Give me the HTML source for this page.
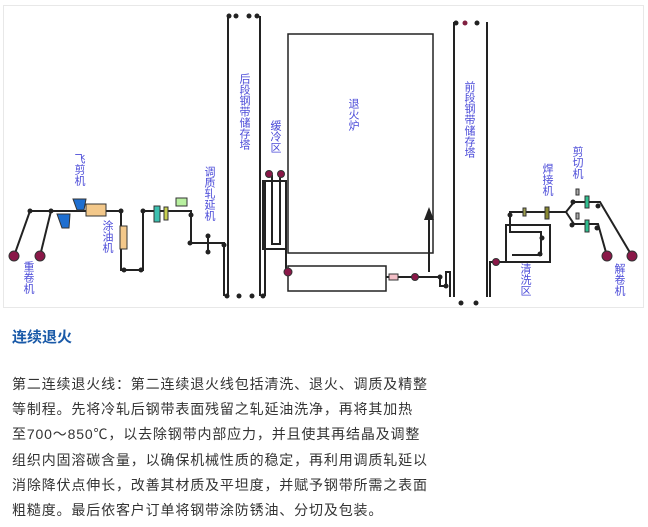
<!DOCTYPE html>
<html><head><meta charset="utf-8"><style>
body{margin:0;width:648px;height:527px;background:#fff;overflow:hidden;font-family:"Liberation Sans","Noto Sans CJK SC",sans-serif}
.t{position:absolute;left:12px;font-size:14px;letter-spacing:0.85px;color:#333;line-height:25.2px;white-space:nowrap}
</style></head><body>
<svg width="648" height="310" style="position:absolute;left:0;top:0" font-family="Noto Sans CJK SC, sans-serif">
<rect x="3.5" y="5.5" width="640" height="302" fill="#fff" stroke="#e8e8e8"/>
<g stroke="#222" stroke-width="2" fill="none">
<line x1="228" y1="16" x2="228" y2="296"/><line x1="260" y1="16" x2="260" y2="296"/>
<line x1="265" y1="180" x2="265" y2="296"/>
<rect x="263" y="181" width="23" height="68"/>
<path d="M272 175V244H280V175"/>
<line x1="286" y1="249" x2="286" y2="272"/>
<rect x="288" y="34" width="145" height="219" stroke-width="1.5"/>
<rect x="288" y="266" width="98" height="25" stroke-width="1.5"/>
<line x1="429" y1="218" x2="429" y2="272"/>
<path d="M386 277H440V286H446V272H450V297"/>
<line x1="454" y1="22" x2="454" y2="297"/><line x1="487" y1="22" x2="487" y2="297"/>
<path d="M490 297V262H506"/>
<rect x="506" y="225" width="44" height="37"/>
<path d="M510 215V232H541V255H512"/>
<path d="M510 218V212H566L574 202H600L632 256"/>
<path d="M566 212L574 224H598L607 256"/>
<path d="M14 256L30 211H121V270H143V211H191V243H224V296"/>
<path d="M40 256L51 211"/>
<line x1="208" y1="234" x2="208" y2="254"/>
</g>
<g fill="#222">
<circle cx="229" cy="16" r="2.5"/><circle cx="236" cy="16" r="2.5"/><circle cx="249" cy="16" r="2.5"/><circle cx="257" cy="16" r="2.5"/>
<circle cx="227" cy="296" r="2.5"/><circle cx="239" cy="296" r="2.5"/><circle cx="252" cy="296" r="2.5"/><circle cx="263" cy="296" r="2.5"/>
<circle cx="456" cy="23" r="2.5"/><circle cx="465" cy="23" r="2.5" fill="#802040"/><circle cx="477" cy="23" r="2.5"/>
<circle cx="461" cy="303" r="2.5"/><circle cx="476" cy="303" r="2.5"/>
<circle cx="30" cy="211" r="2.5"/><circle cx="51" cy="211" r="2.5"/><circle cx="121" cy="211" r="2.5"/>
<circle cx="124" cy="270" r="2.5"/><circle cx="141" cy="270" r="2.5"/><circle cx="143" cy="211" r="2.5"/>
<circle cx="191" cy="215" r="2.5"/><circle cx="190" cy="243" r="2.5"/><circle cx="208" cy="236" r="2.5"/><circle cx="208" cy="252" r="2.5"/><circle cx="224" cy="245" r="2.5"/>
<circle cx="440" cy="277" r="2.5"/><circle cx="446" cy="286" r="2.5"/>
<circle cx="510" cy="215" r="2.5"/><circle cx="542" cy="238" r="2.5"/><circle cx="540" cy="254" r="2.5"/>
<circle cx="573" cy="202" r="2.5"/><circle cx="572" cy="225" r="2.5"/><circle cx="598" cy="206" r="2.5"/><circle cx="597" cy="228" r="2.5"/>
<path d="M429 207L424 220H434Z"/>
</g>
<g fill="#8a1848" stroke="#333" stroke-width="1">
<circle cx="14" cy="256" r="5"/><circle cx="40" cy="256" r="5"/>
<circle cx="607" cy="256" r="5"/><circle cx="632" cy="256" r="5"/>
<circle cx="269" cy="174" r="3.5"/><circle cx="281" cy="174" r="3.5"/>
<circle cx="288" cy="272" r="4"/><circle cx="415" cy="277" r="3.5"/><circle cx="496" cy="262" r="3.5"/>
</g>
<g stroke="#333" stroke-width="1">
<path d="M73 199H86L84 210H77Z" fill="#1f6fd0"/><path d="M57 214H70L69 228H62Z" fill="#1f6fd0"/>
<rect x="86" y="204" width="20" height="12" fill="#f3c88a"/>
<rect x="120" y="226" width="7" height="23" fill="#f3c88a"/>
<rect x="154" y="206" width="6" height="16" fill="#3cc0b0"/>
<rect x="164" y="207" width="4" height="13" fill="#c8d050"/>
<rect x="176" y="198" width="11" height="8" fill="#b8f0a0"/>
<rect x="389" y="274" width="9" height="6" fill="#f4c0c8"/>
<rect x="523" y="208" width="3" height="8" fill="#a0a050"/>
<rect x="545" y="207" width="4" height="12" fill="#8a8a30"/>
<rect x="585" y="196" width="4" height="12" fill="#30c090"/><rect x="585" y="220" width="4" height="12" fill="#30c090"/>
<rect x="576" y="189" width="3" height="6" fill="#aaa"/><rect x="576" y="213" width="3" height="6" fill="#aaa"/>
</g>
<g fill="#4a4ad8" font-size="11" style="writing-mode:vertical-rl">
<text x="80" y="153">飞剪机</text>
<text x="108" y="220">涂油机</text>
<text x="29" y="261">重卷机</text>
<text x="210" y="166">调质轧延机</text>
<text x="245" y="73">后段钢带储存塔</text>
<text x="276" y="120">缓冷区</text>
<text x="354" y="98">退火炉</text>
<text x="470" y="81">前段钢带储存塔</text>
<text x="548" y="163">焊接机</text>
<text x="578" y="146">剪切机</text>
<text x="526" y="263">清洗区</text>
<text x="620" y="263">解卷机</text>
</g>
</svg>
<div style="position:absolute;left:12px;top:326px;font-size:15px;font-weight:bold;color:#1a5aa8">连续退火</div>
<div class="t" style="top:372px">第二连续退火线：第二连续退火线包括清洗、退火、调质及精整<br>等制程。先将冷轧后钢带表面残留之轧延油洗净，再将其加热<br>至700～850℃，以去除钢带内部应力，并且使其再结晶及调整<br>组织内固溶碳含量，以确保机械性质的稳定，再利用调质轧延以<br>消除降伏点伸长，改善其材质及平坦度，并赋予钢带所需之表面<br>粗糙度。最后依客户订单将钢带涂防锈油、分切及包装。</div>
</body></html>
